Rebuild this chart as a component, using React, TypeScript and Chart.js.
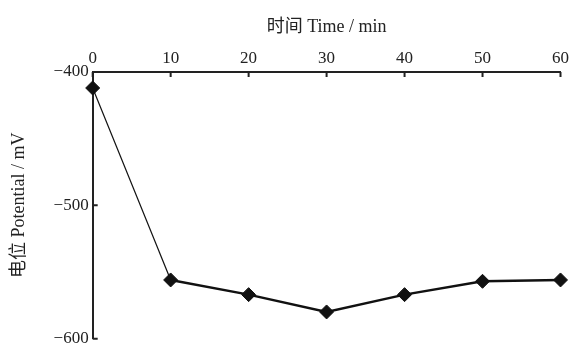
import React, { useEffect, useRef } from "react";
import { Chart, registerables } from "chart.js";

Chart.register(...registerables);

const times = [0, 10, 20, 30, 40, 50, 60];
const potential = [-412, -556, -567, -580, -567, -557, -556];
const xTicks = [0, 10, 20, 30, 40, 50, 60];
const yTicks = [-400, -500, -600];

const FONT = "'Liberation Serif', 'Noto Sans CJK SC', serif";

const inwardTicks = {
  id: "inwardTicks",
  afterDraw(chart: any) {
    const ctx = chart.ctx;
    const x = chart.scales.x;
    const y = chart.scales.y;
    ctx.save();
    ctx.strokeStyle = "#222";
    ctx.lineWidth = 2;
    ctx.beginPath();
    xTicks.forEach((v) => {
      const px = x.getPixelForValue(v);
      ctx.moveTo(px, y.top);
      ctx.lineTo(px, y.top + 5);
    });
    yTicks.forEach((v) => {
      const py = y.getPixelForValue(v);
      ctx.moveTo(x.left, py);
      ctx.lineTo(x.left + 5, py);
    });
    ctx.stroke();
    ctx.restore();
  },
};

export default function App() {
  const ref = useRef<HTMLCanvasElement>(null);
  useEffect(() => {
    document.body.style.margin = "0";
    const chart = new Chart(ref.current as HTMLCanvasElement, {
      type: "line",
      data: {
        datasets: [
          {
            data: times.map((t, i) => ({ x: t, y: potential[i] })),
            borderColor: "#111",
            backgroundColor: "#111",
            pointStyle: "rectRot",
            pointRadius: 7,
            pointBorderWidth: 1,
            tension: 0,
            clip: false as any,
            segment: {
              borderWidth: (c: any) => (c.p0DataIndex === 0 ? 1.2 : 2.5),
            },
          },
        ],
      },
      options: {
        animation: false,
        responsive: false,
        maintainAspectRatio: false,
        layout: { padding: { left: 8, right: 4, top: 16, bottom: 0 } },
        plugins: { legend: { display: false }, tooltip: { enabled: false } },
        scales: {
          x: {
            type: "linear",
            position: "top",
            min: 0,
            max: 60,
            afterBuildTicks: (s: any) => {
              s.ticks = xTicks.map((v) => ({ value: v }));
            },
            grid: { display: true, drawOnChartArea: false, drawTicks: false },
            border: { color: "#222", width: 2 },
            ticks: { color: "#222", font: { family: FONT, size: 17 }, padding: 3, maxRotation: 0 },
            title: {
              display: true,
              text: "时间 Time / min",
              color: "#222",
              font: { family: FONT, size: 18 },
              padding: { top: 0, bottom: 8 },
            },
          },
          y: {
            type: "linear",
            min: -600,
            max: -400,
            afterBuildTicks: (s: any) => {
              s.ticks = yTicks.map((v) => ({ value: v }));
            },
            grid: { display: true, drawOnChartArea: false, drawTicks: false },
            border: { color: "#222", width: 2 },
            ticks: {
              color: "#222",
              font: { family: FONT, size: 17, lineHeight: 0.75 },
              padding: 4,
              callback: (v: any) => String(v).replace("-", "\u2212"),
            },
            title: {
              display: true,
              text: "电位 Potential / mV",
              color: "#222",
              font: { family: FONT, size: 18 },
              padding: { top: 0, bottom: 20 },
            },
          },
        },
      },
      plugins: [inwardTicks],
    });
    return () => chart.destroy();
  }, []);
  return (
    <div style={{ width: 572, height: 349, background: "#fff" }}>
      <canvas ref={ref} width={572} height={349} />
    </div>
  );
}
